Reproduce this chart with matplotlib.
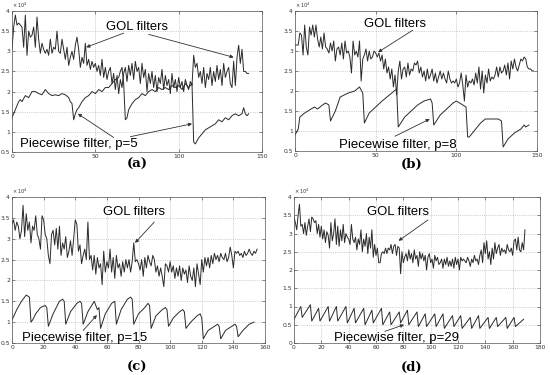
import numpy as np
import matplotlib
matplotlib.use("Agg")
import matplotlib.pyplot as plt

plt.rcParams['font.family'] = ['Liberation Sans', 'DejaVu Sans']

# ---------------- data (values in units of 1e4) ----------------
gol_a = [3.05, 3.6, 3.9, 3.65, 3.7, 3.65, 3.6, 3.1, 3.9, 2.9,
         3.5, 3.35, 3.4, 3.6, 3.1, 3.85, 3.3, 2.95, 3.2, 3.05,
         2.95, 3.05, 2.9, 3.3, 2.95, 3.1, 3.05, 3.5, 3.0, 2.95,
         3.3, 3.05, 2.8, 3.1, 2.65, 2.85, 3.0, 2.8, 3.15, 3.35,
         3.05, 2.6, 2.85, 2.7, 3.2, 2.65, 2.8, 2.55, 2.75, 2.6,
         2.7, 2.5, 2.65, 2.4, 2.8, 2.35, 2.6, 2.3, 2.5, 2.6,
         2.2, 2.45, 2.05, 2.4, 1.95, 2.3, 2.1, 2.45, 2.6, 2.25,
         2.65, 2.4, 2.7, 2.3, 2.75, 2.5, 2.6, 2.2, 2.7, 2.35,
         2.55, 2.0, 2.45, 2.2, 2.5, 2.1, 2.4, 2.0, 2.35, 2.2,
         2.55, 2.05, 2.4, 2.15, 2.3, 1.95, 2.45, 2.1, 2.3, 2.0,
         2.35, 2.1, 2.25, 2.0, 2.3, 2.15, 2.05, 2.25, 2.15, 2.9,
         2.6, 2.7, 2.35, 2.5, 2.2, 2.6, 2.1, 2.45, 2.3, 2.6,
         2.15, 2.5, 2.25, 2.65, 2.3, 2.55, 2.15, 2.7, 2.35, 2.5,
         2.6, 2.2, 2.1, 2.75, 2.15, 2.85, 3.15, 2.7, 3.05, 2.5,
         2.5, 2.45, 2.45]

pw_a_x = [0, 2, 4, 5, 6, 8, 10, 12, 14, 16, 18, 20, 22, 24, 26, 28, 30, 32, 34, 35,
          36, 37, 38, 39, 40, 42, 44, 46, 48, 50, 52, 54, 56, 58, 60, 62, 64, 65, 66, 67,
          68, 69, 70, 72, 74, 76, 78, 80, 82, 84, 86, 88, 90, 92, 94, 96, 98, 100, 102, 104,
          106, 108, 109, 110, 112, 114, 116, 118, 120, 122, 124, 126, 128, 130, 132, 134, 136, 138, 139, 140,
          141, 142]
pw_a_y = [1.35, 1.55, 1.75, 1.8, 1.75, 1.9, 1.85, 2.0, 2.0, 1.95, 1.92, 2.05, 1.95, 1.9, 1.92, 1.9, 1.95, 1.92, 1.85, 1.75,
          1.7, 1.3, 1.45, 1.55, 1.6, 1.75, 1.85, 1.9, 2.0, 1.95, 2.05, 2.0, 2.1, 2.1, 2.2, 2.3, 2.35, 2.5, 2.6, 2.2,
          1.3, 1.35, 1.55, 1.7, 1.8, 1.85, 1.95, 1.9, 2.0, 2.05, 2.0, 2.1, 2.05, 2.1, 2.05, 2.15, 2.1, 2.15, 2.05, 2.2,
          2.1, 2.2, 0.75, 0.7, 0.85, 0.95, 1.05, 1.1, 1.15, 1.2, 1.3, 1.25, 1.35, 1.3, 1.4, 1.45, 1.4, 1.45, 1.6, 1.45,
          1.4, 1.45]

gol_b = [3.15, 3.15, 3.15, 3.45, 3.4, 2.9, 3.65, 3.1, 2.9, 3.6,
         3.4, 3.65, 3.35, 3.65, 3.3, 3.1, 3.35, 3.05, 3.45, 3.1,
         3.05, 2.95, 3.2, 3.0, 3.25, 2.75, 3.05, 3.1, 2.9, 3.2,
         2.8, 3.25, 2.95, 3.0, 2.85, 2.45, 3.25, 2.9, 3.0, 2.85,
         3.25, 2.25, 2.8, 2.9, 3.05, 2.75, 3.0, 2.8, 2.85, 3.0,
         2.95, 2.85, 2.95, 2.75, 2.9, 2.55, 2.8, 2.45, 2.6, 2.3,
         2.55, 2.1, 2.4, 1.9, 2.5, 2.75, 2.3, 2.55, 2.6, 2.35,
         2.7, 2.4, 2.55, 2.5, 2.7, 2.65, 2.75, 2.45, 2.6, 2.35,
         2.5, 2.25, 2.55, 2.3, 2.4, 2.55, 2.25, 2.45, 2.2, 2.35,
         2.5, 2.3, 2.45, 2.3, 2.2, 2.5, 2.3, 2.2, 2.25, 2.2,
         2.3, 2.1, 2.2, 2.45, 2.15, 1.75, 2.4, 2.1, 2.25, 2.2,
         2.3, 2.15, 2.45, 2.2, 2.6, 2.05, 2.5, 1.95, 2.4, 2.2,
         2.55, 2.25, 2.35, 2.3, 2.4, 2.6, 2.35, 2.6, 2.45, 2.5,
         2.65, 2.4, 2.7, 2.3, 2.75, 2.55, 2.8, 2.6, 2.5, 2.65,
         2.8, 2.75, 2.85, 2.8, 2.6, 2.55, 2.55, 2.5, 2.5]

pw_b_x = [0, 2, 3, 6, 10, 12, 14, 17, 19, 21,
          22, 25, 28, 33, 37, 40, 42, 43, 46, 50,
          54, 57, 60, 63, 64, 68, 72, 76, 80, 84,
          85, 86, 90, 94, 98, 100, 104, 106, 107, 108,
          111, 115, 118, 122, 126, 128, 129, 132, 136, 140,
          142, 143, 145]
pw_b_y = [0.9, 1.05, 1.35, 1.45, 1.55, 1.6, 1.55, 1.65, 1.7, 1.65,
          1.25, 1.5, 1.85, 1.95, 2.0, 2.1, 1.95, 1.2, 1.45, 1.6,
          1.75, 1.85, 1.95, 2.05, 1.1, 1.35, 1.5, 1.65, 1.75, 1.8,
          1.7, 1.15, 1.4, 1.55, 1.7, 1.75, 1.65, 1.6, 0.85, 0.85,
          1.0, 1.2, 1.3, 1.3, 1.3, 1.25, 0.6, 0.8, 0.95, 1.05,
          1.15, 1.1, 1.15]

gol_c = [3.35, 3.45, 3.2, 3.4, 3.3, 3.0, 3.2, 3.8, 3.05, 3.6,
         3.2, 3.4, 2.9, 3.3, 3.2, 3.55, 3.1, 3.0, 2.75, 3.55,
         3.45, 3.1, 3.0, 2.6, 2.4, 3.1, 3.2, 2.85, 3.25, 2.75,
         3.3, 2.6, 2.9, 2.75, 3.05, 2.55, 2.7, 2.95, 2.6, 3.0,
         3.45, 3.35, 2.7, 2.85, 2.4, 2.6, 2.75, 2.5, 3.4, 2.5,
         2.6, 2.25, 2.6, 2.15, 2.55, 2.3, 2.4, 1.9, 2.7, 2.2,
         2.45, 2.3, 2.75, 2.2, 2.55, 2.05, 2.6, 2.3, 2.4, 2.1,
         2.45, 2.2, 2.5, 2.3, 2.5, 2.2, 2.45, 2.9, 2.45, 2.5,
         2.4, 2.25, 2.5, 2.1, 2.55, 2.3, 2.6, 2.45, 2.35, 2.6,
         2.5, 2.2, 2.35, 2.1, 2.3, 2.1, 1.85, 2.4, 2.35, 2.2,
         2.45, 2.2, 2.35, 2.05, 2.3, 2.1, 2.35, 2.0, 2.3, 2.15,
         2.25, 1.95, 2.35, 2.1, 2.0, 2.3, 1.85, 2.4, 2.15, 1.9,
         2.5, 2.2, 2.55, 2.35, 2.55, 2.3, 2.6, 2.4, 2.65, 2.5,
         2.6, 2.45, 2.65, 2.55, 2.5, 2.65, 2.45, 2.55, 2.8, 2.6,
         2.3, 2.7, 2.65, 2.7, 2.6, 2.65, 2.55, 2.7, 2.6, 2.65,
         2.75, 2.65, 2.6, 2.7, 2.65, 2.75]

pw_c_x = [0, 3, 6, 9, 11, 12, 13, 15, 18, 21,
          22, 23, 26, 30, 32, 33, 34, 37, 41, 43,
          44, 45, 48, 52, 54, 55, 56, 59, 63, 65,
          66, 69, 73, 75, 76, 77, 80, 84, 86, 87,
          88, 91, 95, 97, 98, 99, 102, 106, 108, 109,
          110, 113, 117, 119, 120, 121, 124, 128, 130, 131,
          132, 135, 139, 141, 142, 143, 146, 150, 153]
pw_c_y = [1.05, 1.3, 1.5, 1.65, 1.6, 1.0, 1.05, 1.2, 1.35, 1.4,
          1.35, 0.9, 1.2, 1.5, 1.55, 1.5, 0.95, 1.25, 1.45, 1.5,
          1.45, 0.95, 1.25, 1.5, 1.3, 1.35, 0.85, 1.2, 1.45, 1.5,
          0.95, 1.3, 1.55, 1.6, 1.55, 0.95, 1.2, 1.35, 1.45, 1.4,
          0.85, 1.15, 1.3, 1.35, 1.3, 0.9, 1.1, 1.25, 1.3, 1.25,
          0.85, 1.0, 1.15, 1.2, 1.1, 0.6, 0.8, 0.9, 0.95, 0.9,
          0.6, 0.8, 0.9, 0.95, 0.9, 0.65, 0.8, 0.95, 1.0]

gol_d = [3.45, 3.3, 3.1, 3.5, 3.8, 3.2, 3.25, 3.0, 3.3, 2.95,
         3.2, 3.4, 3.05, 3.45, 3.4, 3.3, 3.35, 3.0, 3.25, 2.9,
         3.2, 2.85, 3.1, 2.75, 3.05, 2.95, 2.6, 3.3, 2.8, 3.0,
         3.4, 2.7, 3.2, 2.65, 3.1, 2.8, 3.25, 2.75, 3.0, 2.9,
         2.85, 2.7, 3.25, 2.85, 2.75, 2.9, 2.55, 2.85, 2.7, 3.1,
         2.5, 2.85, 2.65, 3.0, 2.45, 2.9, 2.6, 3.1, 2.35, 2.7,
         2.4, 2.6, 2.2, 2.2, 2.45, 2.5, 2.45, 2.6, 2.45, 2.6,
         2.55, 2.7, 2.45, 2.65, 2.7, 2.4, 2.65, 2.6, 1.9, 2.5,
         2.2, 2.35, 2.45, 2.25, 2.55, 2.3, 2.45, 2.2, 2.55, 2.3,
         2.4, 2.1, 2.5, 2.3, 2.45, 2.25, 2.4, 2.0, 2.35, 2.45,
         2.2, 2.3, 2.05, 2.4, 2.25, 2.35, 2.15, 2.2, 2.3, 2.05,
         2.3, 2.15, 2.35, 2.1, 2.25, 2.1, 2.3, 2.05, 2.35, 2.15,
         2.3, 2.0, 2.35, 2.25, 2.3, 2.25, 2.2, 2.35, 2.25, 2.1,
         2.3, 2.2, 2.4, 2.25, 2.3, 2.15, 2.4, 2.55, 2.2, 2.75,
         2.45, 2.8, 2.3, 2.5, 2.15, 2.6, 2.3, 2.75, 2.45, 2.6,
         2.7, 2.4, 2.6, 2.5, 2.55, 2.45, 2.7, 2.55, 2.5, 2.6,
         2.4, 2.8, 2.85, 2.55, 2.9, 2.55, 2.5, 2.75, 2.55, 3.1]

pw_d_x = [0, 5, 6, 12, 13, 18, 19, 25, 26, 31,
          32, 38, 39, 44, 45, 51, 52, 57, 58, 64,
          65, 70, 71, 77, 78, 83, 84, 90, 91, 96,
          97, 103, 104, 109, 110, 116, 117, 122, 123, 129,
          130, 135, 136, 142, 143, 148, 149, 155, 156, 161,
          162, 168]
pw_d_y = [0.65, 1.0, 0.7, 1.05, 0.6, 0.95, 0.6, 1.0, 0.6, 1.0,
          0.6, 1.0, 0.55, 0.95, 0.55, 0.95, 0.5, 0.9, 0.55, 0.95,
          0.5, 0.85, 0.5, 0.85, 0.55, 0.9, 0.5, 0.85, 0.45, 0.8,
          0.45, 0.8, 0.45, 0.8, 0.4, 0.75, 0.45, 0.75, 0.4, 0.7,
          0.4, 0.75, 0.4, 0.7, 0.4, 0.7, 0.45, 0.7, 0.4, 0.7,
          0.45, 0.65]

captions = ["(a)", "(b)", "(c)", "(d)"]
pw_labels = ["Piecewise filter, p=5", "Piecewise filter, p=8",
             "Piecewise filter, p=15", "Piecewise filter, p=29"]
xmaxes = [150, 150, 160, 180]
xsteps = [50, 50, 20, 20]
ymins = [0.5, 0.5, 0.5, 0.0]

# ---------------- layout ----------------
W, H = 550, 375
fig = plt.figure(figsize=(W / 100, H / 100), dpi=100)

def box(l, t, r, b):
    return [l / W, 1 - b / H, (r - l) / W, (b - t) / H]

rects = [box(12, 11, 262, 152), box(295, 11, 537, 151),
         box(12, 197, 265, 343), box(294, 197, 540, 343)]
cap_pos = [(137, 164), (412, 164), (137, 367), (412, 367)]

gols = [gol_a, gol_b, gol_c, gol_d]
pws = [(pw_a_x, pw_a_y), (pw_b_x, pw_b_y), (pw_c_x, pw_c_y), (pw_d_x, pw_d_y)]

# annotation geometry (data coords)
gol_txt = [(75, 3.6), (62, 3.67), (77, 3.64), (76, 3.59)]
gol_arrows = [[((67, 3.45), (44.5, 3.1)), ((82, 3.42), (133, 2.85))],
              [((73, 3.52), (51.5, 2.97))],
              [((90, 3.4), (77.8, 2.9))],
              [((98, 3.37), (76.5, 2.8))]]
pw_txt = [(40, 0.7), (64, 0.65), (46, 0.62), (75, 0.15)]
pw_arrows = [[((61, 0.86), (39.5, 1.45)), ((71, 0.88), (108, 1.2))],
             [((62, 0.87), (83.5, 1.3))],
             [((45, 0.8), (53.7, 1.17))],
             [((66.5, 0.32), (80.5, 0.5))]]

line_col = '#2a2a2a'
for i in range(4):
    ax = fig.add_axes(rects[i])
    g = gols[i]
    ax.plot(np.arange(len(g)), g, color=line_col, lw=0.7)
    px, py = pws[i]
    ax.plot(px, py, color=line_col, lw=0.7)
    ax.set_xlim(0, xmaxes[i])
    ax.set_ylim(ymins[i], 4)
    xt = np.arange(0, xmaxes[i] + 1, xsteps[i])
    ax.set_xticks(xt)
    ax.set_xticklabels([str(v) for v in xt])
    yt = np.arange(ymins[i], 4.01, 0.5)
    ax.set_yticks(yt)
    ax.set_yticklabels([('%g' % v) for v in yt])
    ax.tick_params(direction='in', length=2, width=0.4, labelsize=4.3, pad=1.5,
                   colors='#333333', top=True, right=True)
    for lab in ax.get_xticklabels() + ax.get_yticklabels():
        lab.set_family('DejaVu Sans')
    ax.grid(True, linestyle=':', color='#aaaaaa', lw=0.5)
    for s in ax.spines.values():
        s.set_linewidth(0.5)
        s.set_color('#555555')
    ax.text(0.0, 1.01, r'$\times\,10^4$', transform=ax.transAxes, fontsize=3.6,
            color='#333333', ha='left', va='bottom')
    ax.text(*gol_txt[i], "GOL filters", fontsize=9.4, ha='center', va='center')
    for (s, e) in gol_arrows[i]:
        ax.annotate('', xy=e, xytext=s,
                    arrowprops=dict(arrowstyle='-|>', color='#333333', lw=0.6,
                                    mutation_scale=5, shrinkA=0, shrinkB=0))
    ax.text(*pw_txt[i], pw_labels[i], fontsize=9.5, ha='center', va='center')
    for (s, e) in pw_arrows[i]:
        ax.annotate('', xy=e, xytext=s,
                    arrowprops=dict(arrowstyle='-|>', color='#333333', lw=0.6,
                                    mutation_scale=5, shrinkA=0, shrinkB=0))
    cx, cy = cap_pos[i]
    fig.text(cx / W, 1 - cy / H, captions[i], fontsize=9.5, fontweight='bold',
             family='DejaVu Serif', ha='center', va='center')

fig.savefig('out.png', dpi=100)
